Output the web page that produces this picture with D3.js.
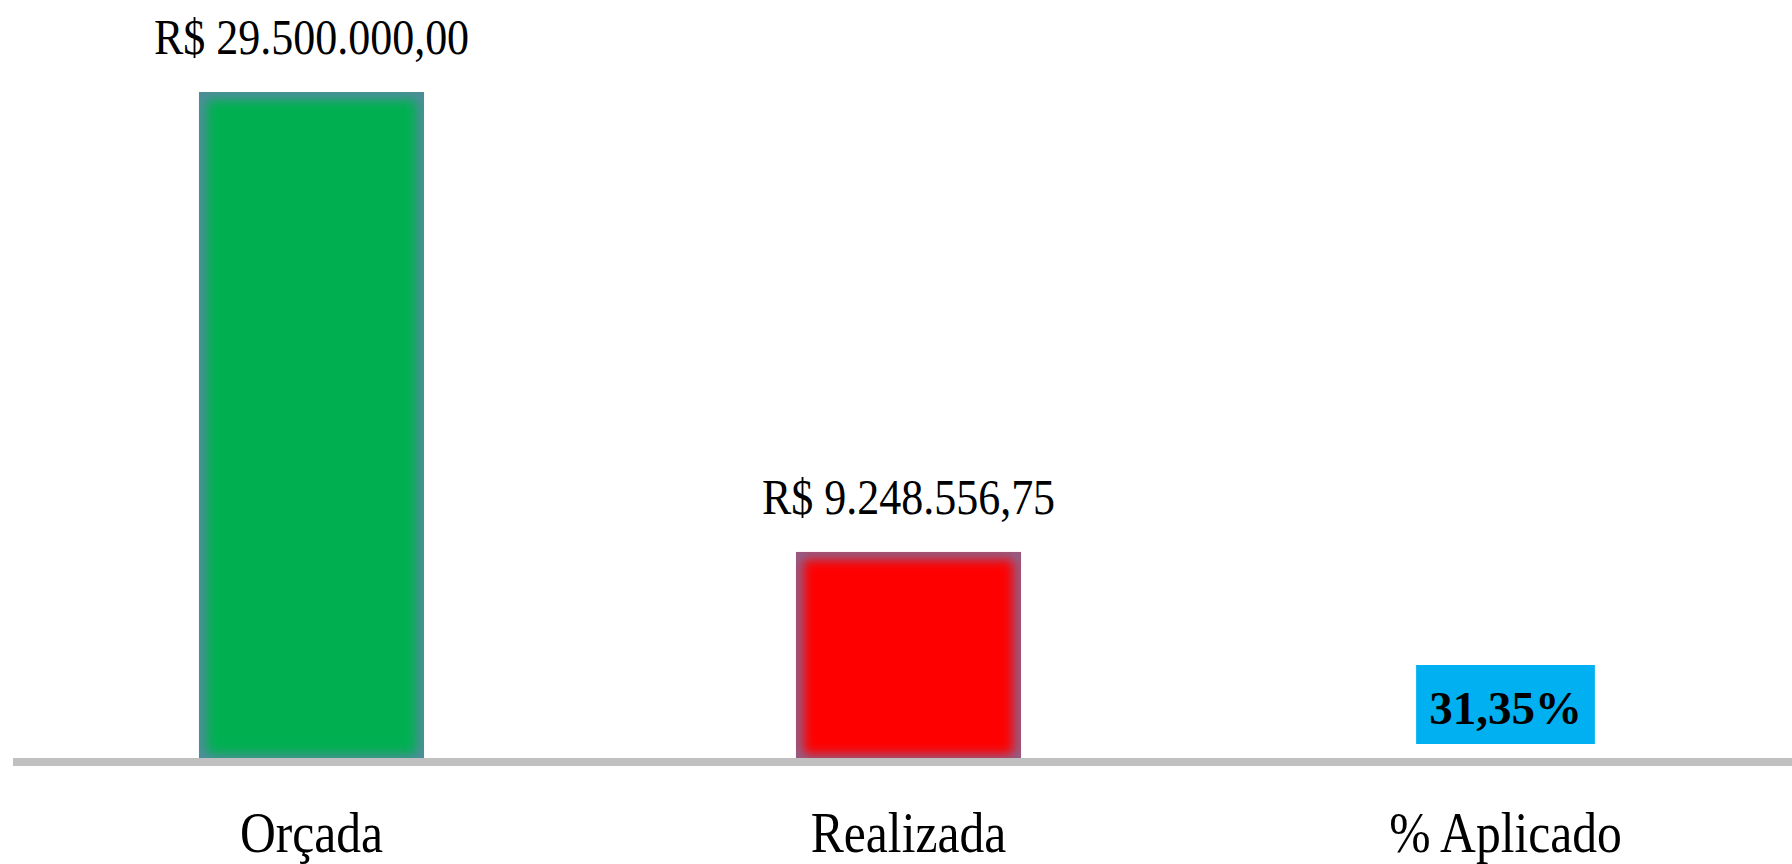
<!DOCTYPE html>
<html>
<head>
<meta charset="utf-8">
<script src="https://cdn.jsdelivr.net/npm/d3@7"></script>
<style>
  html, body { margin: 0; padding: 0; background: #fff; }
  svg { display: block; }
</style>
</head>
<body>
<div id="container"></div>
<script>
// chart data
var categories = ["Orçada", "Realizada", "% Aplicado"];
var values = [29500000, 9248556.75, 31.35];
var kinds = ["money", "money", "percent"];
var barColors = ["#00b050", "#ff0000", "#00b0f0"];

var width = 1792, height = 864;

var svg = d3.select("#container")
  .append("svg")
  .attr("width", width)
  .attr("height", height);

var br = d3.formatLocale({decimal: ",", thousands: ".", grouping: [3], currency: ["R$ ", ""]});
var fmtMoney = br.format("$,.2f");
var fmtPct = br.format(",.2f");

var x = d3.scaleBand()
  .domain(categories)
  .range([13, 1804])
  .paddingInner(0.623)
  .paddingOuter(0.3115);

var y = d3.scaleLinear()
  .domain([0, 29500000])
  .range([762, 92]);

var defs = svg.append("defs");
defs.append("filter")
  .attr("id", "glow")
  .attr("x", "-20%").attr("y", "-20%")
  .attr("width", "140%").attr("height", "140%")
  .append("feGaussianBlur")
  .attr("stdDeviation", 6);

var data = categories.map(function(c, i) {
  return {cat: c, value: values[i], kind: kinds[i], color: barColors[i], i: i};
});

var money = data.filter(function(d) { return d.kind == "money"; });

// clip for the inner glow
money.forEach(function(d) {
  defs.append("clipPath")
    .attr("id", "clip" + d.i)
    .append("rect")
    .attr("x", x(d.cat))
    .attr("y", y(d.value))
    .attr("width", x.bandwidth())
    .attr("height", y(0) - y(d.value));
});

var bars = svg.append("g").selectAll("g")
  .data(money)
  .enter().append("g");

bars.append("rect")
  .attr("x", function(d) { return x(d.cat); })
  .attr("y", function(d) { return y(d.value); })
  .attr("width", x.bandwidth())
  .attr("height", function(d) { return y(0) - y(d.value); })
  .attr("fill", function(d) { return d.color; });

bars.append("g")
  .attr("clip-path", function(d) { return "url(#clip" + d.i + ")"; })
  .append("rect")
  .attr("x", function(d) { return x(d.cat); })
  .attr("y", function(d) { return y(d.value); })
  .attr("width", x.bandwidth())
  .attr("height", function(d) { return y(0) - y(d.value); })
  .attr("fill", "none")
  .attr("stroke", "#6a80b8")
  .attr("stroke-opacity", 0.8)
  .attr("stroke-width", 14)
  .attr("filter", "url(#glow)");

// axis line
svg.append("line")
  .attr("x1", 13)
  .attr("x2", width)
  .attr("y1", y(0))
  .attr("y2", y(0))
  .attr("stroke", "#c0c0c0")
  .attr("stroke-width", 8);

// value labels
svg.append("g").selectAll("text")
  .data(money)
  .enter().append("text")
  .attr("transform", function(d) {
    return "translate(" + (x(d.cat) + x.bandwidth() / 2) + "," + (y(d.value) - 38) + ") scale(0.88,1)";
  })
  .attr("text-anchor", "middle")
  .attr("font-family", "'Liberation Serif', 'Times New Roman', serif")
  .attr("font-size", 50)
  .attr("fill", "#000")
  .text(function(d) { return fmtMoney(d.value); });

// percent label with box
var pct = data.filter(function(d) { return d.kind == "percent"; });
var pg = svg.append("g").selectAll("g")
  .data(pct)
  .enter().append("g")
  .attr("transform", function(d) {
    return "translate(" + (x(d.cat) + x.bandwidth() / 2) + "," + (y(0) - 38) + ")";
  });

pg.append("rect")
  .attr("fill", function(d) { return d.color; });

pg.append("text")
  .attr("text-anchor", "middle")
  .attr("font-family", "'Liberation Serif', 'Times New Roman', serif")
  .attr("font-size", 47)
  .attr("font-weight", "bold")
  .attr("fill", "#000")
  .text(function(d) { return fmtPct(d.value) + "%"; });

pg.each(function() {
  var g = d3.select(this);
  var bb = g.select("text").node().getBBox();
  g.select("rect")
    .attr("x", bb.x - 13)
    .attr("width", bb.width + 26)
    .attr("y", -59)
    .attr("height", 79);
});

// category labels
svg.append("g").selectAll("text")
  .data(categories)
  .enter().append("text")
  .attr("transform", function(d) {
    return "translate(" + (x(d) + x.bandwidth() / 2) + ",852) scale(0.87,1)";
  })
  .attr("text-anchor", "middle")
  .attr("font-family", "'Liberation Serif', 'Times New Roman', serif")
  .attr("font-size", 57)
  .attr("fill", "#000")
  .text(function(d) { return d; });
</script>
</body>
</html>
